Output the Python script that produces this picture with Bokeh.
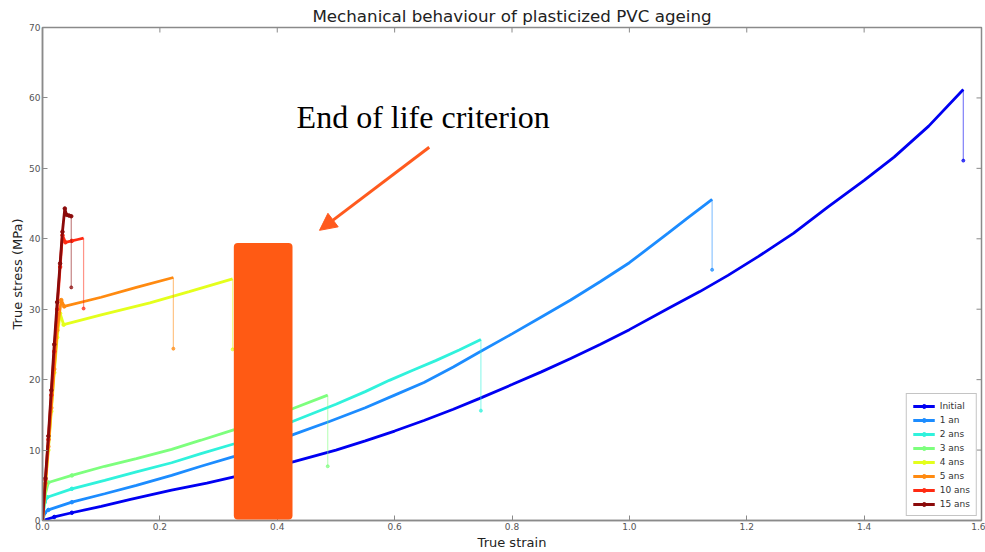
import math
from bokeh.plotting import figure
from bokeh.models import (Range1d, BoxAnnotation, Arrow, NormalHead,
                          Label, FixedTicker, PrintfTickFormatter)
from bokeh.embed import file_html
from bokeh.resources import INLINE

# ---- tensile curves (true strain, true stress in MPa) per ageing time ----
series_names = ["Initial", "1 an", "2 ans", "3 ans", "4 ans", "5 ans", "10 ans", "15 ans"]
series_colors = ["#0000f2", "#1c8cff", "#30f2dc", "#7dff7d", "#e4ff1c", "#ff8a10", "#ff2a12", "#8b0a0a"]

strain_initial = [0, 0.02, 0.05, 0.1, 0.15, 0.22, 0.28, 0.33, 0.38, 0.43, 0.5, 0.55, 0.6, 0.65,
                  0.7, 0.744, 0.8, 0.85, 0.9, 0.95, 1.0, 1.066, 1.12, 1.168, 1.22, 1.28,
                  1.338, 1.4, 1.451, 1.51, 1.569]
stress_initial = [0, 0.5, 1.1, 2.0, 3.0, 4.3, 5.3, 6.25, 7.3, 8.4, 10.0, 11.3, 12.7, 14.2,
                  15.8, 17.3, 19.3, 21.1, 23.0, 25.0, 27.1, 30.1, 32.5, 34.8, 37.5, 40.8,
                  44.5, 48.3, 51.6, 56.0, 61.2]

strain_1an = [0, 0.004, 0.01, 0.05, 0.106, 0.16, 0.22, 0.27, 0.327, 0.38, 0.427, 0.49, 0.55,
              0.6, 0.65, 0.7, 0.744, 0.8, 0.85, 0.9, 0.95, 1.0, 1.066, 1.1, 1.141]
stress_1an = [0, 1.1, 1.5, 2.6, 3.8, 5.0, 6.4, 7.7, 9.1, 10.7, 12.2, 14.1, 16.0,
              17.8, 19.6, 21.8, 23.9, 26.5, 28.9, 31.3, 33.9, 36.6, 40.8, 43.0, 45.6]

strain_2ans = [0, 0.004, 0.008, 0.05, 0.106, 0.16, 0.22, 0.27, 0.327, 0.38, 0.427, 0.5,
               0.55, 0.591, 0.63, 0.67, 0.71, 0.747]
stress_2ans = [0, 2.6, 3.3, 4.5, 5.7, 6.9, 8.2, 9.5, 10.9, 12.4, 14.1, 16.5,
               18.3, 19.9, 21.3, 22.7, 24.2, 25.7]

strain_3ans = [0, 0.004, 0.01, 0.05, 0.106, 0.16, 0.22, 0.27, 0.327, 0.38, 0.427, 0.486]
stress_3ans = [0, 3.5, 5.4, 6.4, 7.7, 8.8, 10.1, 11.4, 12.9, 14.4, 15.9, 17.8]

strain_4ans = [0, 0.005, 0.01, 0.015, 0.02, 0.025, 0.03, 0.036, 0.1, 0.183, 0.25, 0.324]
stress_4ans = [0, 5, 10, 15.5, 21, 26, 29.4, 27.8, 29.2, 30.9, 32.5, 34.3]

strain_5ans = [0, 0.005, 0.01, 0.015, 0.02, 0.025, 0.032, 0.037, 0.1, 0.16, 0.223]
stress_5ans = [0, 5.3, 10.5, 16, 21.5, 27, 31.3, 30.4, 31.7, 33.1, 34.5]

strain_10ans = [0, 0.005, 0.01, 0.015, 0.02, 0.025, 0.03, 0.034, 0.039, 0.05, 0.06, 0.070]
stress_10ans = [0, 5.8, 11.5, 17.8, 24, 30, 36, 40.5, 39.5, 39.7, 39.9, 40.1]

strain_15ans = [0, 0.005, 0.01, 0.015, 0.02, 0.025, 0.03, 0.034, 0.038, 0.041, 0.045, 0.049]
stress_15ans = [0, 6, 12, 18.5, 25, 31, 36.5, 41, 44.3, 43.4, 43.3, 43.2]

# stress recorded just after rupture of each sample
break_stress = [51.1, 35.6, 15.6, 7.7, 24.3, 24.4, 30.1, 33.1]

strains = [strain_initial, strain_1an, strain_2ans, strain_3ans,
           strain_4ans, strain_5ans, strain_10ans, strain_15ans]
stresses = [stress_initial, stress_1an, stress_2ans, stress_3ans,
            stress_4ans, stress_5ans, stress_10ans, stress_15ans]

x_ticks = [0.0, 0.2, 0.4, 0.6, 0.8, 1.0, 1.2, 1.4, 1.6]
y_ticks = [0, 10, 20, 30, 40, 50, 60, 70]

# end-of-life band and its callout
criterion_strain = [0.326, 0.426]
criterion_stress = [0.15, 39.4]
callout_tail = [0.659, 53.0]
callout_head = [0.472, 41.2]
callout_text = "End of life criterion"
callout_pos = [0.433, 54.7]

FONT = "DejaVu Sans"
GREY = "#8a8a8a"
X_MAX, Y_MAX = 1.6, 70

p = figure(width=985, height=552, x_range=Range1d(0, X_MAX), y_range=Range1d(0, Y_MAX),
           output_backend="svg", toolbar_location=None,
           title="Mechanical behaviour of plasticized PVC ageing",
           min_border_left=42, min_border_right=4, min_border_top=27, min_border_bottom=30)
p.background_fill_color = "white"
p.border_fill_color = "white"
p.outline_line_color = GREY
p.outline_line_width = 1.5
p.xgrid.visible = False
p.ygrid.visible = False

p.title.align = "center"
p.title.text_font = FONT
p.title.text_font_size = "16.7px"
p.title.text_font_style = "normal"
p.title.text_color = "#222222"
p.title.offset = 0
p.title.standoff = 4

for i, (xs, ys) in enumerate(zip(strains, stresses)):
    c = series_colors[i]
    name = series_names[i]
    p.line(xs, ys, line_color=c, line_width=2.8, legend_label=name)
    # sample points are only distinguishable on the steep elastic part
    dot_x = [x for x in xs if x < 0.06]
    dot_y = [y for x, y in zip(xs, ys) if x < 0.06]
    p.scatter(dot_x, dot_y, marker="circle", size=3.5, fill_color=c, line_color=c, legend_label=name)
    # rupture drop
    p.line([xs[-1], xs[-1]], [ys[-1], break_stress[i]], line_color=c, line_width=1.2, line_alpha=0.5)
    p.scatter([xs[-1]], [break_stress[i]], marker="circle", size=3, fill_color=c,
              line_color=c, fill_alpha=0.7, line_alpha=0.7)

# axes styling (inward ticks)
for ax in (p.xaxis[0], p.yaxis[0]):
    ax.axis_line_color = GREY
    ax.axis_line_width = 1.5
    ax.major_tick_line_color = GREY
    ax.major_tick_in = 5
    ax.major_tick_out = 0
    ax.minor_tick_line_color = None
    ax.major_label_text_font = FONT
    ax.major_label_text_font_size = "9px"
    ax.major_label_text_color = "#555555"
    ax.axis_label_text_font = FONT
    ax.axis_label_text_font_size = "13px"
    ax.axis_label_text_font_style = "normal"
    ax.axis_label_text_color = "#222222"

p.xaxis.ticker = FixedTicker(ticks=x_ticks)
p.xaxis.formatter = PrintfTickFormatter(format="%.1f")
p.xaxis.axis_label = "True strain"
p.xaxis.major_label_standoff = 2
p.xaxis.axis_label_standoff = 2
p.yaxis.ticker = FixedTicker(ticks=y_ticks)
p.yaxis.formatter = PrintfTickFormatter(format="%d")
p.yaxis.axis_label = "True stress (MPa)"
p.yaxis.major_label_standoff = 2
p.yaxis.axis_label_standoff = 1

# mirrored inward ticks on the right and top spines
p.ray(x=[X_MAX] * len(y_ticks), y=y_ticks, length=5, length_units="screen",
      angle=math.pi, line_color=GREY, line_width=1)
p.ray(x=x_ticks, y=[Y_MAX] * len(x_ticks), length=5, length_units="screen",
      angle=-math.pi / 2, line_color=GREY, line_width=1)

# end-of-life band
p.add_layout(BoxAnnotation(left=criterion_strain[0], right=criterion_strain[1],
                           bottom=criterion_stress[0], top=criterion_stress[1],
                           fill_color="#ff5a14", fill_alpha=1.0, line_color=None,
                           border_radius=4))

p.add_layout(Arrow(x_start=callout_tail[0], y_start=callout_tail[1],
                   x_end=callout_head[0], y_end=callout_head[1],
                   line_color="#ff5a1e", line_width=3,
                   end=NormalHead(size=17, fill_color="#ff5a1e", line_color="#ff5a1e")))

p.add_layout(Label(x=callout_pos[0], y=callout_pos[1], text=callout_text,
                   text_font="Liberation Serif", text_font_size="32px",
                   text_baseline="bottom", text_color="black"))

lg = p.legend[0]
lg.location = "bottom_right"
lg.label_text_font = FONT
lg.label_text_font_size = "9px"
lg.label_text_color = "#333333"
lg.glyph_width = 22
lg.glyph_height = 10
lg.label_height = 11
lg.spacing = 3
lg.padding = 6
lg.margin = 4
lg.border_line_color = GREY
lg.border_line_width = 1.2
lg.background_fill_alpha = 1.0

open("out.html", "w").write(file_html(p, INLINE))
